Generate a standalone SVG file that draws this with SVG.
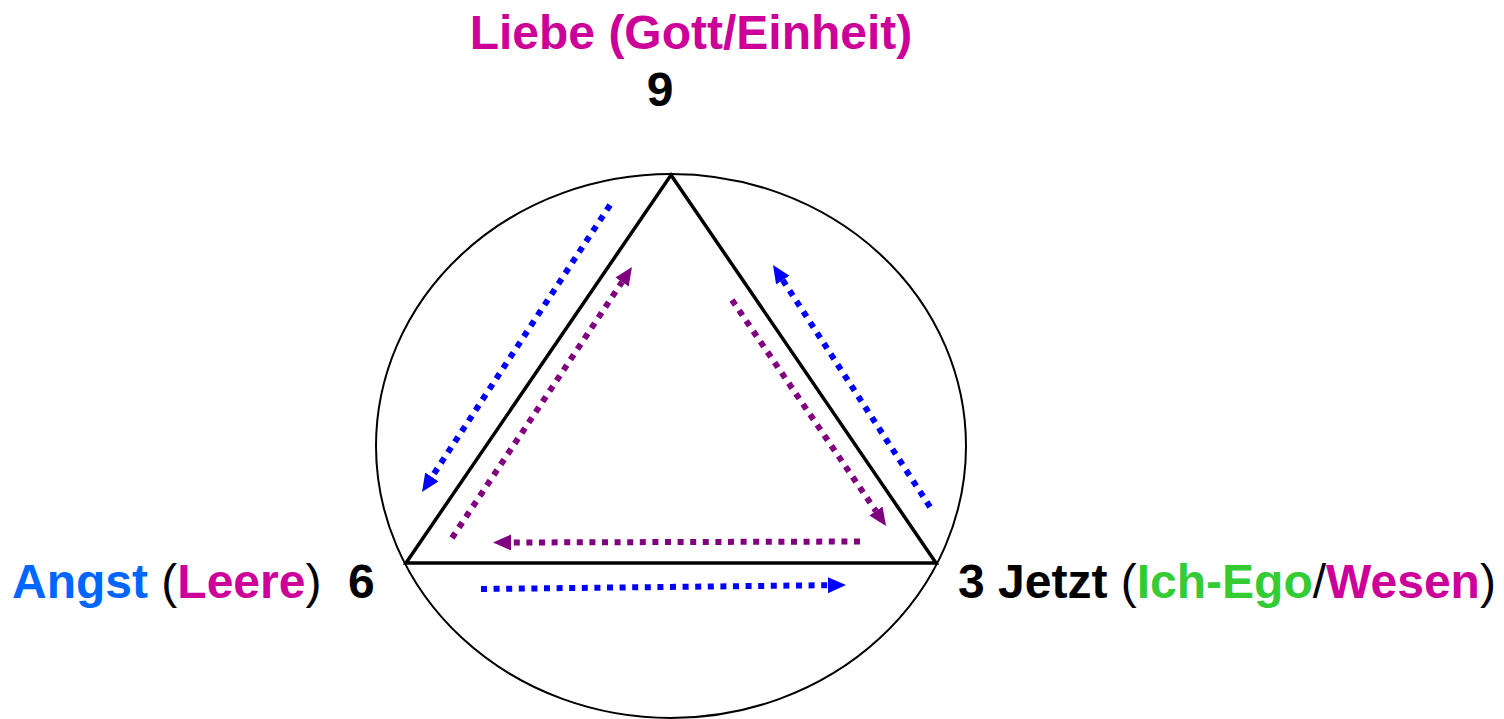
<svg xmlns="http://www.w3.org/2000/svg" width="1504" height="719" viewBox="0 0 1504 719">
<style>
text{font-family:"Liberation Sans",Arial,sans-serif;font-weight:bold;font-size:48px}
.blk{fill:#000}.mag{fill:#CC0099}.blu{fill:#0066FF}.grn{fill:#33CC33}
.thin{fill:#000;font-weight:normal}
.dB{stroke:#0000FF;stroke-width:6;stroke-dasharray:6 6.6;fill:none}
.dP{stroke:#800080;stroke-width:6;stroke-dasharray:6 6.6;fill:none}
</style>
<defs>
<marker id="aB" markerUnits="userSpaceOnUse" markerWidth="20" markerHeight="18" refX="0" refY="8" orient="auto"><path d="M0,0 L18,8 L0,16 Z" fill="#0000FF"/></marker>
<marker id="aP" markerUnits="userSpaceOnUse" markerWidth="20" markerHeight="18" refX="0" refY="8" orient="auto"><path d="M0,0 L18,8 L0,16 Z" fill="#800080"/></marker>
</defs>
<rect width="1504" height="719" fill="#fff"/>
<g id="circle"><ellipse cx="671" cy="446" rx="295" ry="272" fill="none" stroke="#000" stroke-width="2"/></g>
<g id="triangle"><path d="M671,175 L936,563 L406,563 Z" fill="none" stroke="#000" stroke-width="3.5" stroke-linejoin="miter"/></g>
<g id="connectors">
<line class="dB" x1="610" y1="205" x2="431.9" y2="476.9" marker-end="url(#aB)"/>
<line class="dP" x1="452" y1="538" x2="622" y2="282" marker-end="url(#aP)"/>
<line class="dP" x1="732" y1="300" x2="875.9" y2="511.1" marker-end="url(#aP)"/>
<line class="dB" x1="930" y1="507" x2="782.8" y2="280.1" marker-end="url(#aB)"/>
<line class="dP" x1="860" y1="541.5" x2="511" y2="542.5" marker-end="url(#aP)"/>
<line class="dB" x1="481" y1="589" x2="828" y2="585.2" marker-end="url(#aB)"/>
</g>
<g id="top-label"><text x="691" y="49" text-anchor="middle" class="mag">Liebe (Gott/Einheit)</text>
<text x="660" y="106" text-anchor="middle" class="blk">9</text></g>
<g id="left-label"><text x="12" y="598" xml:space="preserve"><tspan class="blu">Angst</tspan><tspan class="blk"> </tspan><tspan class="thin">(</tspan><tspan class="mag">Leere</tspan><tspan class="thin">)</tspan><tspan class="blk">  6</tspan></text></g>
<g id="right-label"><text x="958" y="598" xml:space="preserve"><tspan class="blk">3 Jetzt </tspan><tspan class="thin">(</tspan><tspan class="grn">Ich-Ego</tspan><tspan class="thin">/</tspan><tspan class="mag">Wesen</tspan><tspan class="thin">)</tspan></text></g>
</svg>
